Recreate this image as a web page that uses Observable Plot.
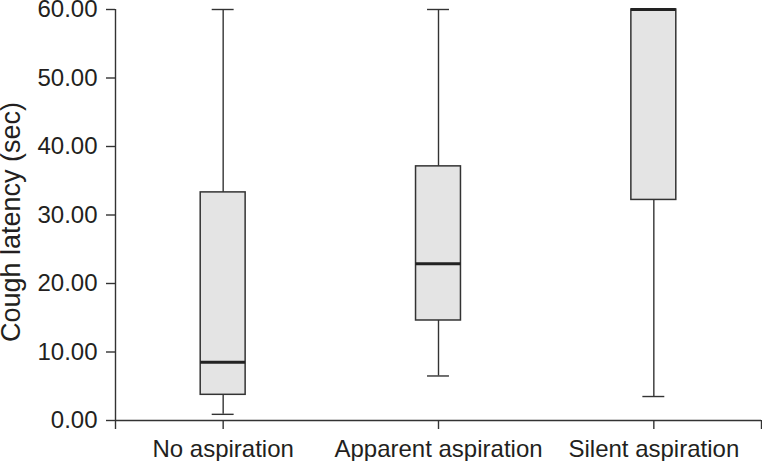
<!DOCTYPE html>
<html>
<head>
<meta charset="utf-8">
<script src="https://cdn.jsdelivr.net/npm/d3@7"></script>
<script src="https://cdn.jsdelivr.net/npm/@observablehq/plot@0.6"></script>
<style>
  html, body { margin: 0; padding: 0; background: #fff; }
  #chart svg { display: block; }
</style>
</head>
<body>
<div id="chart"></div>
<script>
// Data (seconds)
const categories = ["No aspiration", "Apparent aspiration", "Silent aspiration"];
const whiskerLow = [0.9, 6.5, 3.5];
const q1 = [3.75, 14.6, 32.2];
const median = [8.5, 22.9, 60];
const q3 = [33.3, 37.1, 60];
const whiskerHigh = [60, 60, 60];
const yTicks = [0, 10, 20, 30, 40, 50, 60];

const rows = categories.map((name, i) => ({
  name, i, x1: i - 0.5, x2: i + 0.5,
  lo: whiskerLow[i], q1: q1[i], med: median[i], q3: q3[i], hi: whiskerHigh[i]
}));

const ink = "#333333";
const boxInset = 85.2;
const capInset = 96.7;

const chart = Plot.plot({
  width: 762,
  height: 461,
  marginLeft: 115,
  marginRight: 1,
  marginTop: 9,
  marginBottom: 41,
  style: {background: "#fff", color: "#231f20", fontFamily: "'Liberation Sans', Arial, Helvetica, sans-serif"},
  x: {domain: [-0.5, categories.length - 0.5]},
  y: {domain: [0, 60]},
  marks: [
    // whiskers
    Plot.ruleX(rows, {x: "i", y1: "lo", y2: "q1", stroke: ink, strokeWidth: 1.4}),
    Plot.ruleX(rows, {x: "i", y1: "q3", y2: "hi", stroke: ink, strokeWidth: 1.4}),
    // caps
    Plot.ruleY(rows, {y: "lo", x1: "x1", x2: "x2", insetLeft: capInset, insetRight: capInset, stroke: ink, strokeWidth: 1.4}),
    Plot.ruleY(rows, {y: "hi", x1: "x1", x2: "x2", insetLeft: capInset, insetRight: capInset, stroke: ink, strokeWidth: 1.4}),
    // boxes
    Plot.rect(rows, {x1: "x1", x2: "x2", y1: "q1", y2: "q3", insetLeft: boxInset, insetRight: boxInset, fill: "#e4e4e4", stroke: ink, strokeWidth: 1.5}),
    // medians
    Plot.ruleY(rows, {y: "med", x1: "x1", x2: "x2", insetLeft: boxInset, insetRight: boxInset, stroke: "#222", strokeWidth: 3}),
    // axis lines
    Plot.ruleY([0], {stroke: ink, strokeWidth: 1.4}),
    Plot.ruleX([-0.5], {stroke: ink, strokeWidth: 1.4}),
    Plot.axisY({
      ticks: yTicks,
      tickFormat: d3.format(".2f"),
      tickSize: 9,
      tickPadding: 9,
      fontSize: 24,
      stroke: ink,
      strokeWidth: 1.4,
      label: null
    }),
    Plot.axisX({
      ticks: [-0.5, 0, 1, 2, categories.length - 0.5],
      tickFormat: d => categories[d] ?? "",
      tickSize: 9,
      tickPadding: 10,
      fontSize: 24,
      stroke: ink,
      strokeWidth: 1.4,
      label: null
    }),
    Plot.text(["Cough latency (sec)"], {
      frameAnchor: "left",
      textAnchor: "middle",
      rotate: -90,
      dx: -96,
      dy: 7,
      fontSize: 27,
      fill: "#231f20",
      lineAnchor: "bottom"
    })
  ]
});
document.getElementById("chart").appendChild(chart);
</script>
</body>
</html>
